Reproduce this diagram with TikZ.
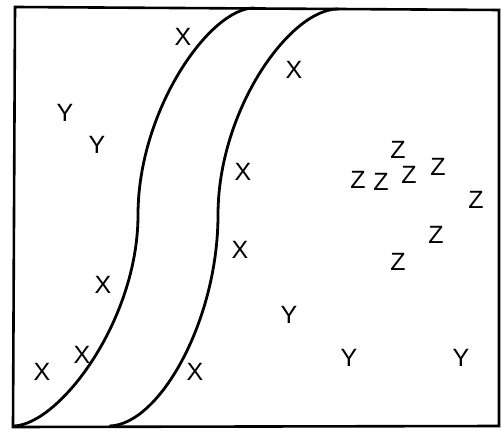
\documentclass[tikz,border=0pt]{standalone}
\usepackage{fontspec}
\setmainfont{Liberation Sans}
\tikzset{
  letter/.style={font=\fontsize{25}{25}\selectfont,inner sep=0pt},
  bound/.style={line width=2.6pt,line join=miter},
  sband/.style={line width=2.8pt,line cap=round}
}
\begin{document}
\begin{tikzpicture}[x=1pt,y=-1pt]
  \useasboundingbox (0,0) rectangle (502,430);
  % outer frame
  \draw[bound] (15,7) -- (499,10) -- (499,426) -- (13,427) -- cycle;
  % left S-curve
  \draw[sband] (14,426) .. controls (60,424) and (138,320) .. (138,215)
               .. controls (138,110) and (210,8) .. (254,8);
  % right S-curve
  \draw[sband] (110,426) .. controls (160,424) and (218,320) .. (218,215)
               .. controls (218,110) and (290,9) .. (338,9);
  % X marks
  \node[letter] (x1) at (183,37) {X};
  \node[letter] (x2) at (294,70) {X};
  \node[letter] (x3) at (243,172) {X};
  \node[letter] (x4) at (240,250) {X};
  \node[letter] (x5) at (103,285) {X};
  \node[letter] (x6) at (82,355) {X};
  \node[letter] (x7) at (42,372) {X};
  \node[letter] (x8) at (195,372) {X};
  % Y marks
  \node[letter] (y1) at (65,113) {Y};
  \node[letter] (y2) at (97,145) {Y};
  \node[letter] (y3) at (289,315) {Y};
  \node[letter] (y4) at (349,358) {Y};
  \node[letter] (y5) at (461,358) {Y};
  % Z marks
  \node[letter] (z1) at (398,150) {Z};
  \node[letter] (z2) at (358,180) {Z};
  \node[letter] (z3) at (381,182) {Z};
  \node[letter] (z4) at (409,175) {Z};
  \node[letter] (z5) at (438,167) {Z};
  \node[letter] (z6) at (476,200) {Z};
  \node[letter] (z7) at (436,235) {Z};
  \node[letter] (z8) at (398,262) {Z};
\end{tikzpicture}
\end{document}
